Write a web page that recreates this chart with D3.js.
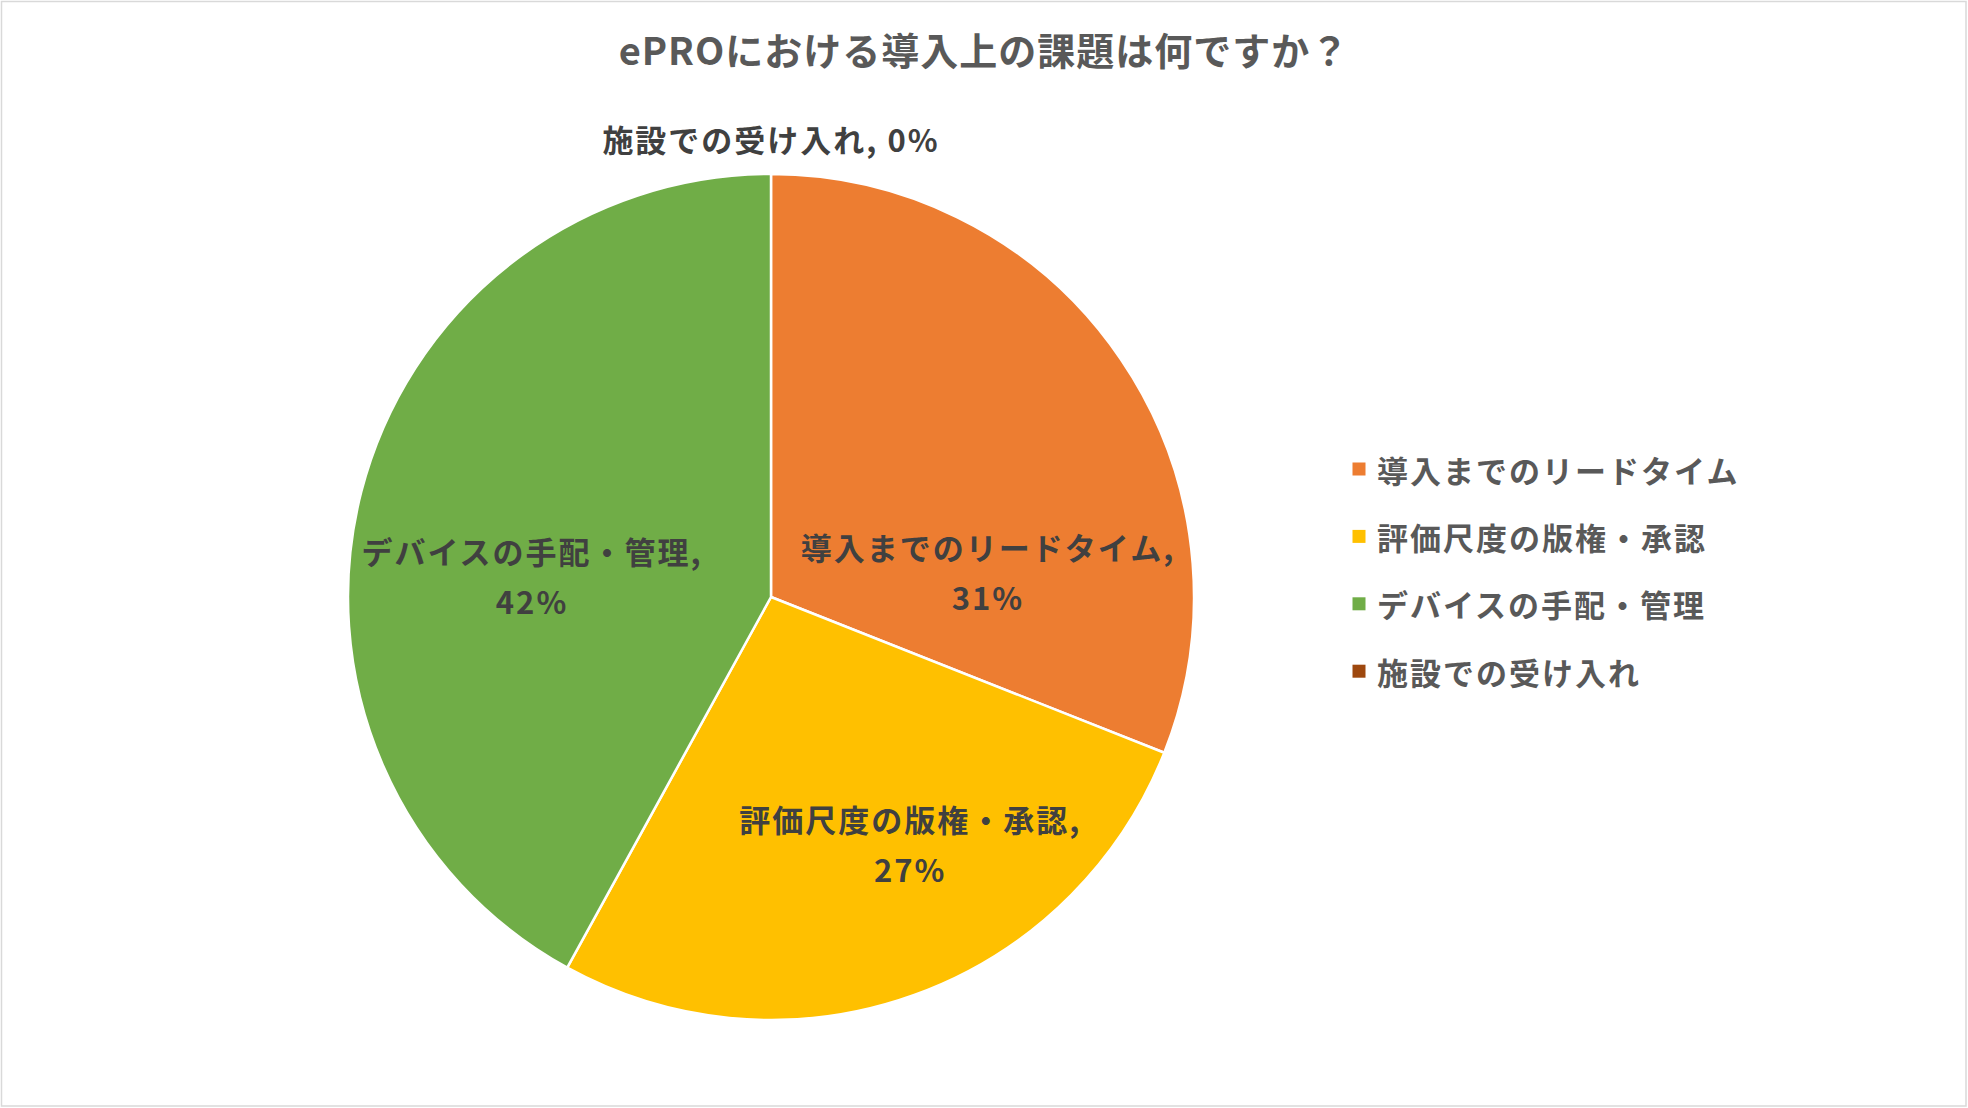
<!DOCTYPE html>
<html><head><meta charset="utf-8">
<script src="https://cdn.jsdelivr.net/npm/d3@7"></script>
<style>
html,body{margin:0;padding:0;background:#fff;}
svg{display:block;}
text{font-family:"Noto Sans CJK JP","Noto Sans",sans-serif;}
</style></head>
<body>
<script>
const title = "ePROにおける導入上の課題は何ですか？";
const categories = ["導入までのリードタイム","評価尺度の版権・承認","デバイスの手配・管理","施設での受け入れ"];
const values = [31, 27, 42, 0];
const colors = ["#ED7D31","#FFC000","#70AD47","#9E480E"];
// label placement relative to pie centre, in units of radius (layout only)
const labelOffsets = [[0.513,-0.06],[0.329,0.582],[-0.565,-0.052],[0,-1.083]];

const W = 1968, H = 1108;
const cx = 771, cy = 597, R = 423;

const svg = d3.select("body").append("svg").attr("width", W).attr("height", H);
svg.append("rect").attr("x",1.5).attr("y",1.5).attr("width",W-3.5).attr("height",H-3.5)
  .attr("fill","#fff").attr("stroke","#D9D9D9").attr("stroke-width",1.5);

svg.append("text").attr("x", W/2).attr("y", 48).attr("text-anchor","middle")
  .attr("dominant-baseline","central").attr("font-size",38).attr("font-weight",700)
  .attr("letter-spacing",1).attr("fill","#595959").text(title);

const data = categories.map((c,i)=>({cat:c, value:values[i], color:colors[i], off:labelOffsets[i]}));
const pie = d3.pie().value(d=>d.value).sort(null);
const arc = d3.arc().innerRadius(0).outerRadius(R);
const arcs = pie(data);

const g = svg.append("g").attr("transform",`translate(${cx},${cy})`);
g.selectAll("path").data(arcs.filter(a=>a.data.value>0)).join("path")
  .attr("d", arc).attr("fill", d=>d.data.color)
  .attr("stroke","#fff").attr("stroke-width",2.5).attr("stroke-linejoin","round");

const total = d3.sum(values);
const fmt = v => Math.round(v/total*100) + "%";
const lblFont = 31, lblSpacing = 2;
arcs.forEach(a=>{
  const d = a.data;
  const x = d.off[0]*R, y = d.off[1]*R;
  const t = g.append("text").attr("text-anchor","middle").attr("font-size",lblFont)
    .attr("font-weight",700).attr("fill","#404040").attr("letter-spacing",lblSpacing);
  if (d.value === 0) {
    t.attr("x",x).attr("y",y).attr("dominant-baseline","central").text(d.cat + ", " + fmt(d.value));
  } else {
    t.append("tspan").attr("x",x).attr("y",y-25).attr("dominant-baseline","central").text(d.cat + ",");
    t.append("tspan").attr("x",x).attr("y",y+25).attr("dominant-baseline","central").text(fmt(d.value));
  }
});

const legend = svg.append("g").attr("transform","translate(1359,469)");
const step = 67.4;
data.forEach((d,i)=>{
  const row = legend.append("g").attr("transform",`translate(0,${i*step})`);
  row.append("rect").attr("x",-6.5).attr("y",-6.5).attr("width",13).attr("height",13).attr("fill",d.color);
  row.append("text").attr("x",18).attr("y",0).attr("dominant-baseline","central")
    .attr("font-size",lblFont).attr("font-weight",700).attr("letter-spacing",lblSpacing)
    .attr("fill","#595959").text(d.cat);
});
</script>
</body></html>
